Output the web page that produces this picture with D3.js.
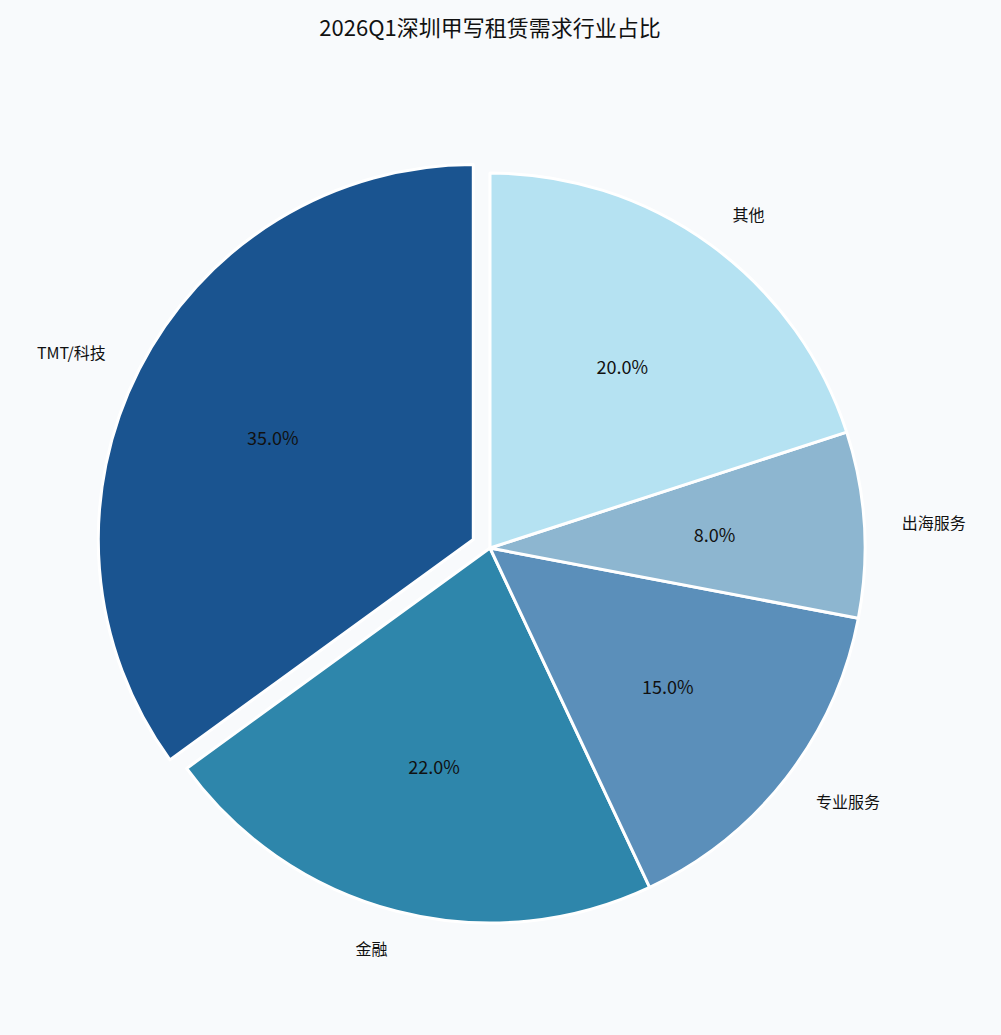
<!DOCTYPE html>
<html><head><meta charset="utf-8">
<script src="https://cdn.jsdelivr.net/npm/d3@7"></script>
<style>body{margin:0;background:#f8fafc;}svg{display:block;font-family:"Noto Sans CJK SC","Noto Sans",sans-serif;}</style>
</head><body><svg id="c" width="1001" height="1035"></svg>
<script>
const categories=["TMT/科技","金融","专业服务","出海服务","其他"];
const values=[35,22,15,8,20];
const colors=["#1a5490","#2e86ab","#5b8fba","#8db6d0","#b5e2f2"];
const explode=[0.05,0,0,0,0];
const svg=d3.select("#c");
svg.append("rect").attr("width",1001).attr("height",1035).attr("fill","#f8fafc");
svg.append("text").attr("x",490).attr("y",36).attr("text-anchor","middle").attr("font-size",22).attr("fill","#111").text("2026Q1深圳甲写租赁需求行业占比");
const cx=490,cy=548,R=375;
const g=svg.append("g").attr("transform",`translate(${cx},${cy})`);
const pie=d3.pie().sort(null).startAngle(0).endAngle(-2*Math.PI);
const arcs=pie(values);
const arc=d3.arc().innerRadius(0).outerRadius(R);
const pt=(a,r)=>[r*Math.sin(a),-r*Math.cos(a)];
arcs.forEach((d,i)=>{
  const m=(d.startAngle+d.endAngle)/2;
  const [ox,oy]=pt(m,explode[i]*R);
  const gg=g.append("g").attr("transform",`translate(${ox},${oy})`);
  gg.append("path").attr("d",arc(d)).attr("fill",colors[i]).attr("stroke","#fff").attr("stroke-width",3).attr("stroke-linejoin","round");
  const [px,py]=pt(m,0.6*R);
  gg.append("text").attr("x",px).attr("y",py).attr("text-anchor","middle").attr("dominant-baseline","central").attr("font-size",18).attr("fill","#111").text(values[i].toFixed(1)+"%");
  const [lx,ly]=pt(m,1.1*R);
  gg.append("text").attr("x",lx).attr("y",ly).attr("text-anchor",lx<0?"end":"start").attr("dominant-baseline","central").attr("font-size",16).attr("fill","#111").text(categories[i]);
});
</script></body></html>
